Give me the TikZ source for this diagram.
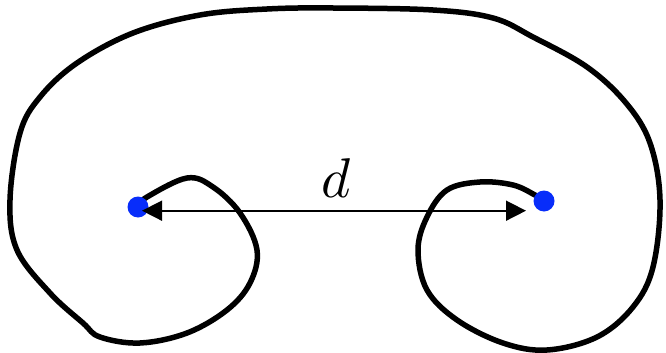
\documentclass[tikz,border=0pt]{standalone}
\usetikzlibrary{arrows.meta}
\definecolor{dotblue}{RGB}{8,45,250}
\begin{document}
\begin{tikzpicture}[x=1pt,y=-1pt,
  curve/.style={line width=5.5pt,line cap=round,line join=round},
  dot/.style={circle,fill=dotblue,inner sep=0pt,minimum size=21pt},
  dist/.style={line width=1.6pt,{Triangle[length=20pt,width=20pt]}-{Triangle[length=20pt,width=20pt]}}]
\useasboundingbox (0,0) rectangle (666,353);
\draw[curve] plot[smooth,tension=0.6] coordinates {
 (140,205) (147,197) (187,178) (213,187) (240,213) (257,250) (250,283) (227,310)
 (187,333) (140,343) (100,337) (83,323) (50,293) (17,250) (10,200) (20,133)
 (40,97) (77,63) (133,33) (200,15) (267,9) (333,8) (433,10) (493,18) (533,37)
 (587,67) (626,103) (650,143) (660,200) (653,267) (633,307) (597,337) (547,350)
 (503,343) (457,320) (427,290) (418,250) (427,217) (447,190) (480,182) (513,185)
 (535,195) (543,200)};
\node[dot] (L) at (138,207) {};
\node[dot] (R) at (544,201) {};
\coordinate (al) at (142,210.7);
\coordinate (ar) at (526,210.7);
\draw[dist] (al) -- (ar);
\node[scale=5.6,anchor=base,inner sep=0pt] (d) at (336,197) {$d$};
\end{tikzpicture}
\end{document}
